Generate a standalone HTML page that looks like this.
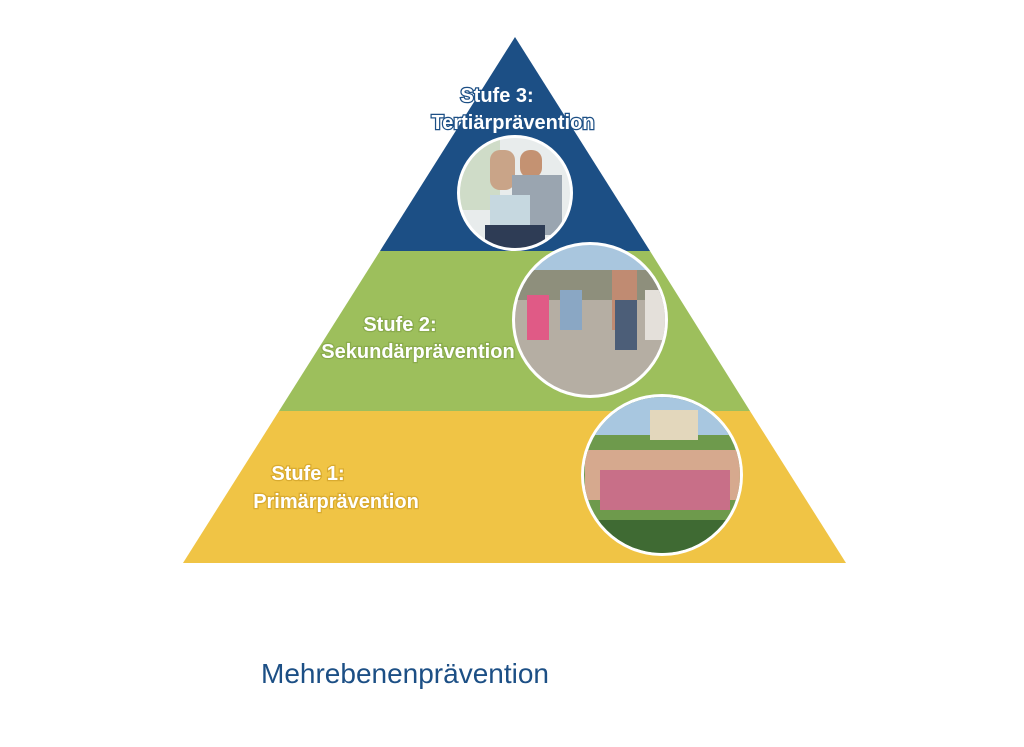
<!DOCTYPE html>
<html><head><meta charset="utf-8"><style>
html,body{margin:0;padding:0;background:#fff;}
svg{display:block;}
</style></head><body>
<svg width="1024" height="747" viewBox="0 0 1024 747" xmlns="http://www.w3.org/2000/svg">
<defs>
<clipPath id="c1"><circle cx="515" cy="193" r="55"/></clipPath>
<clipPath id="c2"><circle cx="590" cy="320" r="75"/></clipPath>
<clipPath id="c3"><circle cx="662" cy="475" r="78"/></clipPath>
</defs>
<rect width="1024" height="747" fill="#fff"/>
<polygon points="515,37 380,251 650,251" fill="#1c4f85"/>
<polygon points="380,251 650,251 750,411 279,411" fill="#9dbf5c"/>
<polygon points="279,411 750,411 846,563 183,563" fill="#f0c445"/>
<circle cx="515" cy="193" r="58" fill="#fff"/>
<g clip-path="url(#c1)">
<rect x="455" y="135" width="120" height="120" fill="#e8ecec"/>
<rect x="460" y="140" width="40" height="70" fill="#cfdcc8"/>
<rect x="490" y="150" width="25" height="40" fill="#c9a488" rx="10"/>
<rect x="520" y="150" width="22" height="28" fill="#c49272" rx="10"/>
<rect x="512" y="175" width="50" height="60" fill="#9aa5b0"/>
<rect x="490" y="195" width="40" height="30" fill="#c6d8e0"/>
<rect x="485" y="225" width="60" height="30" fill="#2e3c55"/>
</g>
<circle cx="590" cy="320" r="78" fill="#fff"/>
<g clip-path="url(#c2)">
<rect x="510" y="240" width="160" height="60" fill="#a9c6de"/>
<rect x="510" y="270" width="160" height="30" fill="#8e8f7c"/>
<rect x="510" y="300" width="160" height="100" fill="#b5aea3"/>
<rect x="527" y="295" width="22" height="45" fill="#e05a86"/>
<rect x="560" y="290" width="22" height="40" fill="#8aa7c4"/>
<rect x="612" y="270" width="25" height="60" fill="#c08b72"/>
<rect x="615" y="300" width="22" height="50" fill="#4c5e78"/>
<rect x="645" y="290" width="20" height="50" fill="#e4e0da"/>
</g>
<circle cx="662" cy="475" r="81" fill="#fff"/>
<g clip-path="url(#c3)">
<rect x="580" y="395" width="165" height="165" fill="#6e9a4c"/>
<rect x="580" y="395" width="165" height="40" fill="#a8c7e0"/>
<rect x="650" y="410" width="48" height="30" fill="#e3d7bc"/>
<rect x="585" y="450" width="160" height="50" fill="#d6a98e"/>
<rect x="600" y="470" width="130" height="40" fill="#c86f88"/>
<rect x="580" y="520" width="165" height="40" fill="#3f6a33"/>
</g>
<g font-family="Liberation Sans, sans-serif" font-weight="bold" font-size="20" text-anchor="middle" fill="#fff" stroke="#1c4f85" stroke-width="2.5" paint-order="stroke">
<text x="497" y="102">Stufe 3:</text>
<text x="513" y="129">Tertiärprävention</text>
<text x="400" y="331" stroke="#8aab4c">Stufe 2:</text>
<text x="418" y="358" stroke="#8aab4c">Sekundärprävention</text>
<text x="308" y="480" stroke="#d9ab30">Stufe 1:</text>
<text x="336" y="508" stroke="#d9ab30">Primärprävention</text>
</g>
<text x="405" y="683" font-family="Liberation Sans, sans-serif" font-size="28" text-anchor="middle" fill="#1c4f85">Mehrebenenprävention</text>
</svg>
</body></html>
